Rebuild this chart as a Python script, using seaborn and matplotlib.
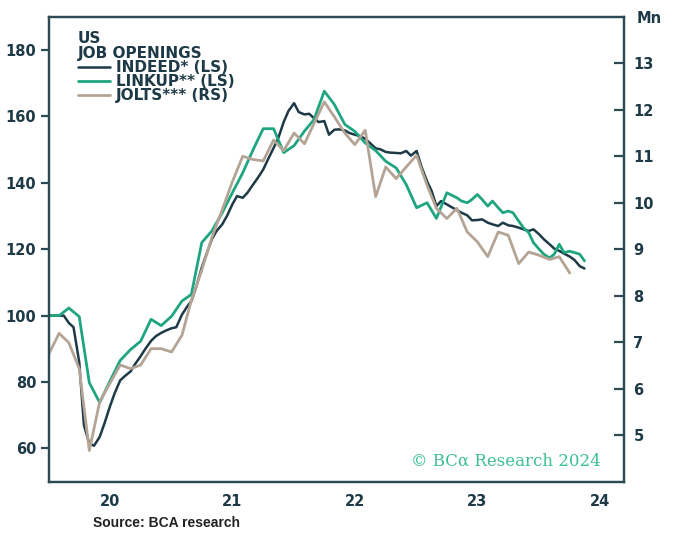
import matplotlib
matplotlib.use("Agg")
import matplotlib.dates as mdates
import matplotlib.pyplot as plt
import pandas as pd
import seaborn as sns

# Indeed job postings index, 1st and 15th of each month (LS)
INDEED_VALUES = [
    100, 100, 100, 100, 97.8, 96.5, 86, 67, 61.5, 60.8, 63.5, 67.5,
    72.5, 76.5, 80.5, 81.8, 83.2, 85.5, 87.8, 90, 92.4, 93.8, 94.8, 95.5,
    96.2, 96.5, 100.3, 102.5, 104.4, 108.5, 114.5, 118.5, 123, 125.5, 127.5, 130,
    133.5, 136, 135.5, 137, 139.5, 141.5, 144, 147, 150.5, 153.5, 158.3, 161.6,
    164, 161.3, 160.6, 160.8, 159.5, 158.3, 158.6, 154.5, 156, 156.1, 155.8, 155,
    154.5, 154.1, 153.3, 152, 150.4, 150.1, 149.3, 149.1, 149, 148.9, 149.6, 148.2,
    149.6, 145, 140.5, 137.5, 133, 134.5, 133.5, 132.7, 131.8, 131, 130.2, 128.7,
    128.8, 129, 128, 127.5, 127, 128, 127.2, 127, 126.5, 126, 125.5, 126,
    124.5, 123, 121.5, 120.2, 119.5, 118.7, 117.8, 116.8, 114.9, 114.2,
]

# LinkUp index: monthly to Apr 2023, then twice a month (LS)
LINKUP_MONTHLY = [
    100, 100, 102.3, 99.7, 79.8, 73.8, 80.2, 86.5, 89.8, 92.3, 98.9, 97.0,
    99.8, 104.4, 106.4, 122.0, 125.5, 131, 137, 143, 150, 156.3, 156.3, 149.1,
    151.2, 155.6, 159, 167.6, 163.6, 157.6, 155.5, 152, 149.7, 146.5, 144.5, 139.5,
    132.5, 134, 129.3, 137,
]
LINKUP_SEMI = [
    135.5, 134.5, 134, 135, 136.5, 135, 133, 134.5, 132.5, 131, 131.5, 131,
    128.5, 126.5, 125, 122, 120, 118.5, 117.4, 118.5, 121.5, 119, 119.4, 119,
    118.5, 116.5,
]

# JOLTS job openings, millions, monthly (RS)
JOLTS_VALUES = [
    6.74, 7.19, 6.99, 6.43, 4.67, 5.72, 6.11, 6.51, 6.43, 6.51, 6.86, 6.86,
    6.79, 7.15, 7.9, 8.55, 9.25, 9.85, 10.45, 11.0, 10.93, 10.9, 11.35, 11.12,
    11.5, 11.27, 11.7, 12.17, 11.85, 11.5, 11.25, 11.56, 10.13, 10.77, 10.52, 10.77,
    11.02, 10.38, 9.88, 9.66, 9.88, 9.37, 9.16, 8.84, 9.37, 9.30, 8.69, 8.94,
    8.87, 8.78, 8.84, 8.49,
]

LEGEND_LABELS = ["INDEED* (LS)", "LINKUP** (LS)", "JOLTS*** (RS)"]
LEFT_TICKS = [60, 80, 100, 120, 140, 160, 180]
RIGHT_TICKS = [5, 6, 7, 8, 9, 10, 11, 12, 13]

INK = "#1e3a46"
SPINE = "#2c4a53"
C_INDEED = "#1d3a46"
C_LINKUP = "#1fa57f"
C_JOLTS = "#b3a495"
C_BRAND = "#3cbf95"

indeed = pd.DataFrame({
    "date": pd.date_range("2020-01-01", periods=len(INDEED_VALUES), freq="SMS"),
    "value": INDEED_VALUES,
})
linkup_dates = pd.date_range("2020-01-01", periods=len(LINKUP_MONTHLY), freq="MS").append(
    pd.date_range("2023-05-01", periods=len(LINKUP_SEMI), freq="SMS"))
linkup = pd.DataFrame({"date": linkup_dates, "value": LINKUP_MONTHLY + LINKUP_SEMI})
jolts = pd.DataFrame({
    "date": pd.date_range("2020-01-01", periods=len(JOLTS_VALUES), freq="MS"),
    "value": JOLTS_VALUES,
})

sns.set_style("white")
plt.rcParams["font.family"] = ["DejaVu Sans"]

fig = plt.figure(figsize=(6.81, 5.43), dpi=100)
ax = fig.add_axes([0.0715, 0.113, 0.8444, 0.856])
ax2 = ax.twinx()

sns.lineplot(data=indeed, x="date", y="value", ax=ax, color=C_INDEED, lw=1.8, legend=False)
h_indeed = ax.lines[-1]
sns.lineplot(data=linkup, x="date", y="value", ax=ax, color=C_LINKUP, lw=2.0, legend=False)
h_linkup = ax.lines[-1]
sns.lineplot(data=jolts, x="date", y="value", ax=ax2, color=C_JOLTS, lw=2.0, legend=False)
h_jolts = ax2.lines[-1]

ax.set_xlim(pd.Timestamp("2020-01-01"), pd.Timestamp("2024-09-09"))
ax.set_ylim(50, 190)
ax2.set_ylim(4, 14)
ax.set_yticks(LEFT_TICKS)
ax2.set_yticks(RIGHT_TICKS)
for a in (ax, ax2):
    a.set_xlabel("")
    a.set_ylabel("")
    for s in a.spines.values():
        s.set_visible(True)
        s.set_color(SPINE)
        s.set_linewidth(1.6)

ax.xaxis.set_major_locator(mdates.YearLocator())
ax.xaxis.set_major_formatter(plt.NullFormatter())
ax.xaxis.set_minor_locator(mdates.MonthLocator(bymonth=7))
ax.xaxis.set_minor_formatter(mdates.DateFormatter("%y"))

ax.tick_params(axis="x", which="major", direction="in", length=7, width=1.6, color=SPINE)
ax.tick_params(axis="x", which="minor", length=0, pad=9, labelsize=10.5, labelcolor=INK)
ax.tick_params(axis="y", which="major", direction="out", length=6, width=1.6, color=SPINE,
               pad=3, labelsize=10.5, labelcolor=INK, right=False)
ax2.tick_params(axis="y", which="major", direction="in", length=7, width=1.6, color=SPINE,
                pad=7, labelsize=10.5, labelcolor=INK)
for lab in ax.get_xticklabels(minor=True) + ax.get_yticklabels() + ax2.get_yticklabels():
    lab.set_fontweight("bold")

leg = ax.legend([h_indeed, h_linkup, h_jolts], LEGEND_LABELS,
                title="US\nJOB OPENINGS", loc="upper left",
                bbox_to_anchor=(0.051, 0.969), borderaxespad=0, borderpad=0,
                frameon=False, handlelength=2.1, handletextpad=0.4,
                labelspacing=-0.07, alignment="left",
                prop={"weight": "bold", "size": 11},
                title_fontproperties={"weight": "bold", "size": 11})
leg.get_title().set_color(INK)
leg.get_title().set_linespacing(1.0)
for t in leg.get_texts():
    t.set_color(INK)
if ax2.get_legend() is not None:
    ax2.get_legend().remove()

fig.text(0.954, 0.966, "Mn", ha="center", va="center", fontsize=10.5,
         fontweight="bold", color=INK)
ax.text(0.96, 0.045, "\u00a9 BC\u03b1 Research 2024", transform=ax.transAxes,
        ha="right", va="center", fontsize=12, color=C_BRAND,
        family=["DejaVu Serif"])
fig.text(0.137, 0.037, "Source: BCA research", ha="left", va="center",
         fontsize=10, fontweight="bold", color="#222222", family=["Liberation Sans"])

fig.savefig("out.png", dpi=100)
